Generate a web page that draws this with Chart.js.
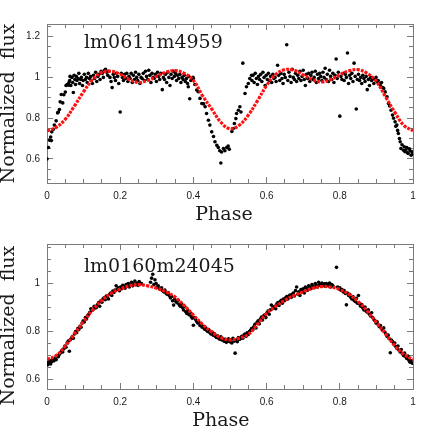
<!DOCTYPE html>
<html><head><meta charset="utf-8">
<script src="https://cdn.jsdelivr.net/npm/chart.js@4/dist/chart.umd.min.js"></script>
<style>
html,body{margin:0;padding:0;background:#fff;width:436px;height:436px;overflow:hidden}
canvas{position:absolute;left:0}
#c1{top:0}
#c2{top:225px}
</style></head><body>
<canvas id="c1" width="436" height="225"></canvas>
<canvas id="c2" width="436" height="206"></canvas>
<script>
// ---------- tick labels / positions ----------
const xMajorTicks = [0, 0.2, 0.4, 0.6, 0.8, 1];
const xMinorTicks = [0.05,0.1,0.15,0.25,0.3,0.35,0.45,0.5,0.55,0.65,0.7,0.75,0.85,0.9,0.95];
const yMajorTicksTop = [0.6, 0.8, 1, 1.2];
const yMinorTicksTop = [0.5,0.55,0.65,0.7,0.75,0.85,0.9,0.95,1.05,1.1,1.15,1.25];
const yMajorTicksBot = [0.6, 0.8, 1];
const yMinorTicksBot = [0.65,0.7,0.75,0.85,0.9,0.95,1.05,1.1,1.15];

// ---------- panel 1: lm0611m4959 ----------
const star1 = 'lm0611m4959';
const model1Phase = [0,0.025,0.05,0.075,0.1,0.125,0.15,0.175,0.2,0.225,0.25,0.275,0.3,0.325,0.35,0.375,0.4,0.425,0.45,0.475,0.5,0.525,0.55,0.575,0.6,0.625,0.65,0.675,0.7,0.725,0.75,0.775,0.8,0.825,0.85,0.875,0.9,0.925,0.95,0.975,1];
const model1Flux = [0.738,0.755,0.795,0.86,0.93,0.99,1.025,1.03,1.015,0.99,0.975,0.985,1.005,1.025,1.033,1.02,0.985,0.91,0.845,0.78,0.748,0.765,0.815,0.885,0.96,1.015,1.038,1.035,1.012,0.99,0.978,0.99,1.012,1.032,1.038,1.02,0.98,0.905,0.83,0.765,0.738];
const obs1Phase = [
0.000,0.004,0.007,0.010,0.012,0.013,0.017,0.020,0.025,0.029,0.031,0.034,0.036,0.039,0.043,0.046,0.050,0.052,0.055,0.059,0.060,0.063,
0.062,0.065,0.068,0.070,0.072,0.074,0.076,0.078,0.080,0.082,0.085,0.087,0.089,0.092,0.094,0.097,0.099,0.102,0.105,0.108,0.110,0.113,0.116,0.119,
0.121,0.124,0.127,0.130,0.133,0.136,0.139,0.142,0.145,0.148,0.151,0.154,0.157,0.160,0.163,0.166,0.169,0.172,0.175,0.178,0.181,0.184,0.187,0.190,
0.193,0.196,0.200,0.203,0.206,0.209,0.212,0.215,0.218,0.221,0.224,0.227,0.230,0.233,0.236,0.239,0.242,0.245,0.248,0.251,0.254,0.257,0.260,0.263,
0.266,0.269,0.272,0.275,0.278,0.281,0.284,0.287,0.290,0.293,0.296,0.299,0.302,0.305,0.308,0.311,0.315,0.318,0.321,0.324,0.327,0.330,0.333,0.336,
0.339,0.342,0.345,0.348,0.351,0.354,0.357,0.360,0.363,0.366,0.369,0.372,0.375,0.378,0.381,0.384,0.387,0.390,0.393,0.396,0.399,
0.386,0.400,0.404,0.409,0.413,0.418,0.423,0.428,0.432,0.436,0.441,0.445,0.450,0.455,0.459,0.464,0.468,0.472,0.475,0.477,0.482,0.486,0.491,0.495,0.498,
0.505,0.507,0.509,0.512,0.516,0.518,0.523,0.527,0.530,0.535,0.541,0.545,0.550,0.554,0.559,
0.560,0.563,0.566,0.569,0.572,0.575,0.578,0.581,0.584,0.587,0.590,0.593,0.596,0.599,0.602,0.605,0.608,0.611,0.614,0.617,0.620,0.623,0.626,0.630,
0.633,0.636,0.639,0.642,0.645,0.648,0.651,0.655,0.658,0.661,0.664,0.667,0.670,0.673,0.676,0.679,0.682,0.685,0.688,0.691,0.694,0.697,0.700,0.703,
0.706,0.709,0.712,0.715,0.718,0.721,0.724,0.727,0.730,0.733,0.736,0.739,0.742,0.745,0.748,0.751,0.754,0.757,0.760,0.763,0.766,0.769,0.772,0.775,
0.778,0.781,0.784,0.787,0.790,0.793,0.796,0.800,0.803,0.806,0.809,0.812,0.815,0.818,0.821,0.824,0.827,0.830,0.833,0.836,0.839,0.842,0.845,0.848,
0.851,0.854,0.857,0.860,0.863,0.866,0.869,0.872,0.875,0.878,0.881,0.884,0.887,0.890,0.893,0.896,0.899,0.902,0.905,0.908,0.911,0.914,0.917,
0.920,0.924,0.929,0.933,0.936,0.940,0.944,0.947,0.951,0.953,0.956,0.958,0.960,0.963,0.965,0.967,0.970,0.974,0.976,0.978,0.981,0.983,0.985,0.987,0.990,0.992,0.995,0.997,0.999];
const obs1Flux = [
0.600,0.656,0.692,0.708,0.690,0.733,0.745,0.766,0.787,0.826,0.830,0.842,0.880,0.916,0.875,0.915,0.928,0.960,0.965,0.962,0.975,1.005,
0.985,0.960,1.000,0.975,0.926,1.010,0.990,0.965,1.005,0.985,0.995,1.020,0.970,0.990,1.000,0.960,0.985,1.015,0.990,1.000,0.975,1.020,0.995,1.005,
0.985,0.970,1.010,0.995,1.025,0.980,1.005,1.015,0.990,1.030,1.020,1.000,1.035,1.040,1.025,1.010,1.030,1.000,0.980,0.950,1.015,1.000,0.985,1.020,
1.005,0.970,0.830,1.020,1.000,0.985,1.015,0.995,1.020,0.980,1.005,0.995,1.020,0.975,1.010,0.990,1.025,1.000,0.985,1.015,0.970,1.000,0.995,1.020,
0.985,1.030,1.005,0.990,1.035,1.010,0.975,1.020,1.000,0.995,1.015,0.980,1.025,1.005,0.990,1.020,0.940,1.000,0.990,1.015,0.975,1.025,1.000,0.960,
1.015,0.995,1.030,1.005,1.020,0.985,1.010,0.995,1.015,0.975,1.000,0.990,1.010,0.980,0.995,0.970,1.005,0.895,0.985,0.990,1.000,
0.954,0.995,0.965,0.938,0.930,0.897,0.872,0.870,0.856,0.823,0.790,0.766,0.733,0.710,0.684,0.667,0.656,0.640,0.580,0.634,0.651,0.640,0.656,0.663,0.648,
0.735,0.748,0.749,0.774,0.798,0.823,0.839,0.856,0.830,1.070,0.921,0.954,0.970,0.995,1.010,
0.985,1.010,0.975,1.020,0.995,0.965,1.005,0.990,1.015,0.980,1.025,1.000,0.960,1.010,0.990,1.020,0.985,1.005,0.975,1.015,0.995,1.000,0.980,1.060,
1.010,0.985,1.020,0.995,0.970,1.015,1.000,1.160,0.985,1.025,1.005,0.975,1.040,1.000,0.990,1.020,0.980,1.010,0.995,1.030,0.985,1.005,1.035,0.990,
0.960,1.015,0.995,1.020,0.980,1.010,1.025,0.990,1.000,1.030,0.975,1.015,0.995,1.020,1.005,0.985,1.025,1.000,1.045,0.990,1.015,0.980,1.035,1.005,
0.990,1.020,0.975,1.010,1.090,0.995,1.025,0.810,1.005,0.990,1.020,0.985,1.015,1.000,1.120,0.970,1.010,0.995,1.020,0.980,1.070,1.005,0.845,0.990,
1.015,0.985,1.000,0.970,1.010,0.995,0.980,1.005,0.940,0.990,0.960,1.000,0.985,0.995,0.970,0.990,1.000,0.980,0.985,0.970,0.960,0.975,0.950,
0.946,0.929,0.905,0.872,0.860,0.839,0.815,0.800,0.782,0.760,0.766,0.740,0.725,0.700,0.684,0.651,0.670,0.643,0.660,0.635,0.645,0.656,0.630,0.627,0.650,0.640,0.618,0.635,0.625];

// ---------- panel 2: lm0160m24045 ----------
const star2 = 'lm0160m24045';
const model2Phase = model1Phase.slice();
const model2Flux = [0.684,0.70,0.74,0.79,0.842,0.89,0.93,0.958,0.977,0.99,0.995,0.99,0.98,0.965,0.943,0.908,0.868,0.83,0.798,0.775,0.765,0.772,0.788,0.83,0.875,0.905,0.93,0.95,0.965,0.98,0.987,0.985,0.975,0.955,0.925,0.885,0.838,0.79,0.742,0.705,0.684];
const obs2Phase = [
0.002,0.004,0.006,0.008,0.010,0.013,0.016,0.019,0.022,0.025,0.028,0.031,0.034,0.037,0.040,0.043,0.046,0.049,0.052,0.055,0.058,0.061,0.063,0.066,0.069,0.072,0.075,0.078,0.081,0.084,
0.087,0.090,0.093,0.096,0.099,0.102,0.105,0.108,0.111,0.114,0.117,0.120,0.123,0.126,0.129,0.132,0.135,0.138,0.141,0.144,0.147,0.150,0.153,0.156,0.159,0.162,0.165,0.168,0.171,0.174,
0.177,0.180,0.183,0.186,0.189,0.192,0.195,0.198,0.201,0.204,0.207,0.210,0.213,0.216,0.219,0.222,0.225,0.228,0.231,0.234,0.237,0.240,0.243,0.246,0.249,0.252,0.255,0.258,
0.283,0.286,0.289,0.292,0.295,0.298,0.301,0.304,0.307,0.310,0.313,0.316,0.319,0.322,0.325,0.328,0.331,0.334,0.337,0.340,0.343,0.346,0.349,0.352,0.355,0.358,0.361,0.364,0.367,0.370,
0.373,0.376,0.379,0.382,0.385,0.388,0.391,0.394,0.397,0.400,0.403,0.406,0.409,0.412,0.415,0.418,0.421,0.424,0.427,0.430,0.433,0.436,0.439,0.442,0.445,0.448,0.451,0.454,0.457,0.460,
0.463,0.466,0.469,0.472,0.475,0.478,0.481,0.484,0.487,0.490,0.493,0.496,0.499,0.502,0.505,0.508,0.511,0.514,0.517,0.520,0.523,0.526,0.529,0.532,0.535,0.538,0.541,0.544,0.547,0.550,
0.553,0.556,0.559,0.562,0.565,0.568,0.571,0.574,0.577,0.580,0.583,0.586,0.589,0.592,0.595,0.598,0.601,0.604,0.607,0.610,0.613,0.616,0.619,0.622,0.625,0.628,0.631,0.634,0.637,0.640,
0.643,0.646,0.649,0.652,0.655,0.658,0.661,0.664,0.667,0.670,0.673,0.676,0.679,0.682,0.685,0.688,0.691,0.694,0.697,0.700,0.703,0.706,0.709,0.712,0.715,0.718,0.721,0.724,0.727,0.730,
0.733,0.736,0.739,0.742,0.745,0.748,0.751,0.754,0.757,0.760,0.763,0.766,0.769,0.772,0.775,0.778,0.781,0.791,0.794,0.797,0.800,0.803,0.806,0.809,0.812,0.815,0.818,0.821,0.824,0.827,
0.830,0.833,0.836,0.839,0.842,0.845,0.848,0.851,0.854,0.857,0.860,0.863,0.866,0.869,0.872,0.875,0.878,0.881,0.884,0.887,0.890,0.893,0.896,0.899,0.902,0.905,0.908,0.911,0.914,0.917,
0.920,0.923,0.926,0.929,0.932,0.935,0.938,0.941,0.944,0.947,0.950,0.953,0.956,0.959,0.962,0.965,0.968,0.971,0.974,0.977,0.980,0.983,0.986,0.989,0.992,0.995,0.998];
const obs2Flux = [
0.662,0.672,0.668,0.680,0.665,0.675,0.684,0.678,0.690,0.683,0.700,0.695,0.705,0.712,0.720,0.715,0.728,0.740,0.735,0.752,0.760,0.718,0.765,0.770,0.778,0.772,0.790,0.800,0.795,0.812,
0.808,0.822,0.818,0.835,0.845,0.840,0.858,0.852,0.865,0.872,0.880,0.895,0.888,0.892,0.905,0.898,0.900,0.912,0.920,0.905,0.928,0.922,0.935,0.940,0.932,0.948,0.945,0.935,0.955,0.960,
0.950,0.968,0.962,0.972,0.990,0.975,0.982,0.970,0.985,0.978,0.992,0.988,0.980,0.995,0.990,1.000,0.985,0.993,1.005,0.990,0.998,1.010,0.995,1.002,0.992,1.008,0.998,1.000,
1.005,1.022,1.038,0.995,1.015,1.000,0.985,0.990,0.978,0.975,0.982,0.970,0.965,0.972,0.960,0.955,0.962,0.950,0.940,0.945,0.928,0.910,0.935,0.925,0.920,0.930,0.912,0.905,0.915,0.900,
0.890,0.905,0.882,0.875,0.886,0.870,0.878,0.862,0.855,0.826,0.858,0.850,0.842,0.835,0.838,0.825,0.830,0.818,0.822,0.810,0.815,0.805,0.800,0.808,0.795,0.790,0.798,0.785,0.792,0.780,
0.775,0.782,0.772,0.768,0.778,0.765,0.770,0.760,0.768,0.755,0.762,0.770,0.758,0.765,0.752,0.772,0.760,0.710,0.765,0.758,0.775,0.768,0.770,0.780,0.772,0.785,0.790,0.780,0.795,0.788,
0.800,0.805,0.812,0.808,0.820,0.830,0.815,0.838,0.845,0.832,0.852,0.860,0.848,0.865,0.870,0.858,0.878,0.885,0.872,0.890,0.910,0.895,0.900,0.905,0.895,0.915,0.920,0.908,0.925,0.930,
0.918,0.935,0.928,0.940,0.945,0.935,0.948,0.952,0.942,0.955,0.960,0.948,0.970,0.985,0.955,0.965,0.950,0.975,0.968,0.978,0.960,0.985,0.980,0.972,0.990,0.985,0.978,0.995,0.988,0.982,
1.000,0.992,0.985,1.005,0.995,0.990,1.002,0.992,0.998,0.988,1.000,0.995,0.990,1.002,0.985,0.995,0.990,1.067,0.985,0.978,0.982,0.972,0.975,0.965,0.970,0.958,0.911,0.960,0.950,0.955,
0.942,0.935,0.945,0.930,0.925,0.938,0.918,0.950,0.915,0.905,0.912,0.898,0.890,0.902,0.885,0.880,0.890,0.872,0.865,0.878,0.858,0.850,0.845,0.835,0.840,0.828,0.820,0.825,0.812,0.805,
0.815,0.798,0.790,0.780,0.785,0.770,0.712,0.765,0.758,0.748,0.752,0.738,0.730,0.740,0.722,0.715,0.725,0.708,0.700,0.710,0.695,0.688,0.698,0.680,0.672,0.678,0.668];

// ---------- helpers ----------
const AX = '#7a7a7a';
const TXT = '#1a1a1a';
function fmt(v){
  const r = Math.round(v*10)/10;
  if (Math.abs(r) < 1e-9) return '0';
  if (Math.abs(r-1) < 1e-9) return '1';
  return r.toFixed(1);
}
function setTicks(arr){ return s => { s.ticks = arr.map(v => ({value: v})); }; }
function frame(axis, position, ticksArr, len, weight, size, labelOpts, titleOpts, min, max){
  return {
    type:'linear', axis: axis, position: position, min: min, max: max, weight: weight,
    afterBuildTicks: setTicks(ticksArr),
    afterFit: s => { if (axis === 'x') s.height = size; else s.width = size; },
    grid:{display:true, drawOnChartArea:false, drawTicks:true, tickLength:-len, color:AX, lineWidth:1, tickWidth:1},
    border:{display:true, color:AX, width:1},
    ticks: labelOpts ? labelOpts : {display:false},
    title: titleOpts ? titleOpts : {display:false}
  };
}
const starLabel = {
  id:'starLabel',
  afterDraw(chart, args, opts){
    const ctx = chart.ctx;
    const x = chart.scales.x.getPixelForValue(opts.px);
    const y = chart.scales.y.getPixelForValue(opts.py);
    ctx.save();
    ctx.font = '19px "DejaVu Serif"';
    ctx.fillStyle = TXT;
    ctx.textAlign = 'left';
    ctx.textBaseline = 'alphabetic';
    ctx.fillText(opts.text, x, y);
    ctx.restore();
  }
};
function makePanel(id, p){
  const labelX = {display:true, autoSkip:false, maxRotation:0, padding:13, color:TXT, font:{family:'Liberation Sans', size:10}, callback: fmt};
  const labelY = {display:true, autoSkip:false, padding:13, color:TXT, font:{family:'Liberation Sans', size:10}, callback: fmt};
  const tFont = {family:'DejaVu Serif', size:19, lineHeight:1};
  new Chart(document.getElementById(id), {
    type:'scatter',
    data:{datasets:[
      {data: p.mPhase.map((x,i)=>({x:x, y:p.mFlux[i]})), showLine:true, borderColor:'#ff1010', borderWidth:3.2, borderDash:[3,1.2], pointRadius:0, tension:0.4, fill:false},
      {data: p.oPhase.map((x,i)=>({x:x, y:p.oFlux[i]})), backgroundColor:'#000', borderWidth:0, pointRadius:1.8}
    ]},
    plugins:[starLabel],
    options:{
      responsive:false, animation:false, events:[],
      layout:{padding:{left:0, right:23, top:p.padTop, bottom:0}},
      plugins:{legend:{display:false}, tooltip:{enabled:false}, starLabel:{text:p.star, px:0.101, py:p.labelY}},
      scales:{
        x: frame('x','bottom', xMajorTicks, 6, 1, p.xH, labelX, {display:true, text:p.xTitle, font:tFont, color:TXT, padding:0}, 0, 1),
        x2: frame('x','bottom', xMinorTicks, 4, 0, 0, null, null, 0, 1),
        xt: frame('x','top', xMajorTicks, 6, 1, 0, null, null, 0, 1),
        xt2: frame('x','top', xMinorTicks, 4, 0, 0, null, null, 0, 1),
        y: frame('y','left', p.yMaj, 6, 1, 47, labelY, {display:true, text:p.yTitle, font:tFont, color:TXT, padding:0}, p.yMin, p.yMax),
        y2: frame('y','left', p.yMin2, 4, 0, 0, null, null, p.yMin, p.yMax),
        yr: frame('y','right', p.yMaj, 6, 1, 0, null, null, p.yMin, p.yMax),
        yr2: frame('y','right', p.yMin2, 4, 0, 0, null, null, p.yMin, p.yMax)
      }
    }
  });
}
makePanel('c1', {star:star1, mPhase:model1Phase, mFlux:model1Flux, oPhase:obs1Phase, oFlux:obs1Flux,
  padTop:24, xH:42, yMin:0.482, yMax:1.262, yMaj:yMajorTicksTop, yMin2:yMinorTicksTop, labelY:1.146,
  xTitle:'Phase  ', yTitle:'Normalized  flux'});
makePanel('c2', {star:star2, mPhase:model2Phase, mFlux:model2Flux, oPhase:obs2Phase, oFlux:obs2Flux,
  padTop:5, xH:42, yMin:0.561, yMax:1.164, yMaj:yMajorTicksBot, yMin2:yMinorTicksBot, labelY:1.047,
  xTitle:'Phase   ', yTitle:'Normalized  flux   '});
</script>
</body></html>
